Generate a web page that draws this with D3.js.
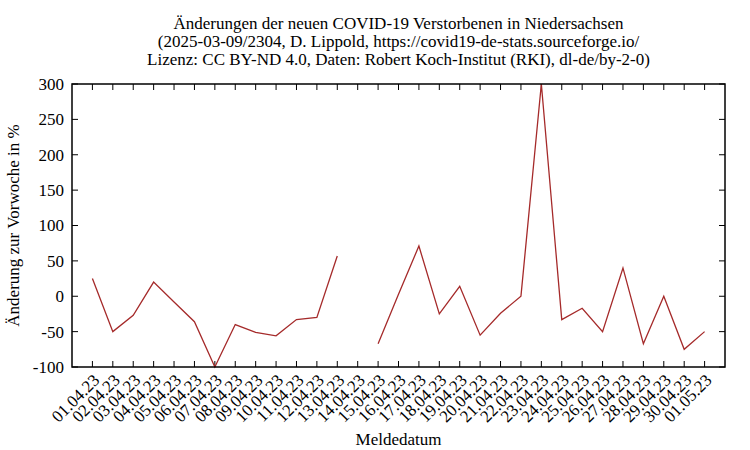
<!DOCTYPE html>
<html lang="de">
<head>
<meta charset="utf-8">
<script src="https://cdn.jsdelivr.net/npm/d3@7"></script>
<style>
  body { margin: 0; background: #fff; }
  svg text { font-family: "Liberation Serif", "Times New Roman", serif; font-size: 17px; fill: #000; }
</style>
</head>
<body>
<script>
// Meldedatum und Aenderung zur Vorwoche in % (null = kein Wert)
var dates = ["01.04.23","02.04.23","03.04.23","04.04.23","05.04.23","06.04.23","07.04.23",
             "08.04.23","09.04.23","10.04.23","11.04.23","12.04.23","13.04.23","14.04.23",
             "15.04.23","16.04.23","17.04.23","18.04.23","19.04.23","20.04.23","21.04.23",
             "22.04.23","23.04.23","24.04.23","25.04.23","26.04.23","27.04.23","28.04.23",
             "29.04.23","30.04.23","01.05.23"];
var values = [25, -50, -27, 20, -8, -36, -100,
              -40, -51, -56, -33, -30, 57, null,
              -67, 3, 71, -25, 14, -55, -24,
              0, 300, -33, -17, -50, 40, -67,
              0, -75, -50];
var yTicks = [-100, -50, 0, 50, 100, 150, 200, 250, 300];
var titleLines = ["Änderungen der neuen COVID-19 Verstorbenen in Niedersachsen",
                  "(2025-03-09/2304, D. Lippold, https://covid19-de-stats.sourceforge.io/",
                  "Lizenz: CC BY-ND 4.0, Daten: Robert Koch-Institut (RKI), dl-de/by-2-0)"];

var w = 750, h = 450;
var plotLeft = 72, plotRight = 725, plotTop = 84, plotBottom = 367;

var svg = d3.select("body").append("svg")
  .attr("width", w).attr("height", h);

var x = d3.scaleLinear().domain([-1, dates.length]).range([plotLeft, plotRight]);
var y = d3.scaleLinear().domain([-100, 300]).range([plotBottom, plotTop]);

// ticks (inward, mirrored like gnuplot)
var tl = 6;
svg.append("g").selectAll("line").data(dates).enter().append("line")
  .attr("x1", function(d, i) { return x(i); }).attr("x2", function(d, i) { return x(i); })
  .attr("y1", plotBottom).attr("y2", plotBottom - tl)
  .attr("stroke", "#000").attr("stroke-width", 1);
svg.append("g").selectAll("line").data(dates).enter().append("line")
  .attr("x1", function(d, i) { return x(i); }).attr("x2", function(d, i) { return x(i); })
  .attr("y1", plotTop).attr("y2", plotTop + tl)
  .attr("stroke", "#000").attr("stroke-width", 1);
svg.append("g").selectAll("line").data(yTicks).enter().append("line")
  .attr("x1", plotLeft).attr("x2", plotLeft + tl)
  .attr("y1", function(d) { return y(d); }).attr("y2", function(d) { return y(d); })
  .attr("stroke", "#000").attr("stroke-width", 1);
svg.append("g").selectAll("line").data(yTicks).enter().append("line")
  .attr("x1", plotRight).attr("x2", plotRight - tl)
  .attr("y1", function(d) { return y(d); }).attr("y2", function(d) { return y(d); })
  .attr("stroke", "#000").attr("stroke-width", 1);

// y tick labels
svg.append("g").selectAll("text").data(yTicks).enter().append("text")
  .attr("x", plotLeft - 8).attr("y", function(d) { return y(d); })
  .attr("dy", "0.35em").attr("text-anchor", "end")
  .text(function(d) { return d; });

// x tick labels, rotated 45 degrees
svg.append("g").selectAll("text").data(dates).enter().append("text")
  .attr("text-anchor", "end")
  .attr("transform", function(d, i) { return "translate(" + (x(i) + 4) + "," + (plotBottom + 10) + ") rotate(-45)"; })
  .attr("dy", "0.35em")
  .text(function(d) { return d; });

// data line
var line = d3.line()
  .defined(function(d) { return d !== null; })
  .x(function(d, i) { return x(i); })
  .y(function(d) { return y(d); });
svg.append("path").datum(values)
  .attr("d", line)
  .attr("fill", "none")
  .attr("stroke", "#a52a2a")
  .attr("stroke-width", 1.3);

// frame
svg.append("rect")
  .attr("x", plotLeft).attr("y", plotTop)
  .attr("width", plotRight - plotLeft).attr("height", plotBottom - plotTop)
  .attr("fill", "none").attr("stroke", "#000").attr("stroke-width", 1.5);

// title
svg.append("g").selectAll("text").data(titleLines).enter().append("text")
  .attr("x", (plotLeft + plotRight) / 2).attr("y", function(d, i) { return 29 + i * 18; })
  .attr("text-anchor", "middle")
  .text(function(d) { return d; });

// axis labels
svg.append("text")
  .attr("x", (plotLeft + plotRight) / 2).attr("y", 445)
  .attr("text-anchor", "middle")
  .text("Meldedatum");
svg.append("text")
  .attr("transform", "translate(19," + ((plotTop + plotBottom) / 2) + ") rotate(-90)")
  .attr("text-anchor", "middle")
  .text("Änderung zur Vorwoche in %");
</script>
</body>
</html>
